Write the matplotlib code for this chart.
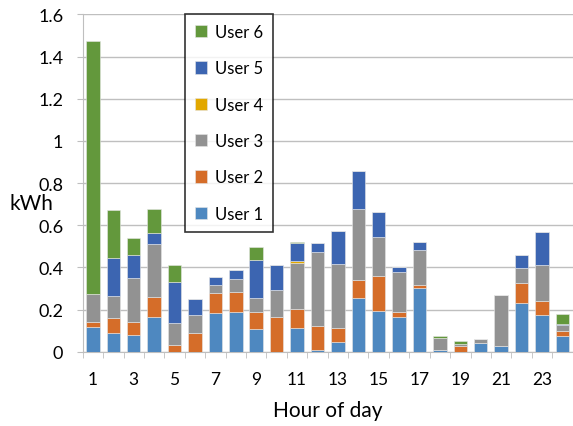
import matplotlib.pyplot as plt
from matplotlib.ticker import FuncFormatter

plt.rcParams['font.family'] = ['Lato', 'DejaVu Sans']

hours = list(range(1, 25))

user1 = [0.119, 0.087, 0.081, 0.166, 0.0, 0.0, 0.183, 0.187, 0.109, 0.0, 0.114, 0.009,
         0.045, 0.253, 0.191, 0.163, 0.304, 0.007, 0.0, 0.043, 0.026, 0.229, 0.173, 0.076]
user2 = [0.023, 0.073, 0.058, 0.095, 0.032, 0.087, 0.097, 0.095, 0.078, 0.166, 0.090, 0.114,
         0.066, 0.086, 0.166, 0.027, 0.012, 0.0, 0.028, 0.0, 0.0, 0.095, 0.066, 0.022]
user3 = [0.132, 0.104, 0.210, 0.251, 0.103, 0.087, 0.038, 0.061, 0.068, 0.127, 0.218, 0.351,
         0.305, 0.338, 0.187, 0.188, 0.165, 0.056, 0.007, 0.016, 0.243, 0.074, 0.171, 0.027]
user4 = [0.0, 0.0, 0.0, 0.0, 0.0, 0.0, 0.0, 0.0, 0.0, 0.0, 0.008, 0.0,
         0.0, 0.0, 0.0, 0.0, 0.0, 0.0, 0.0, 0.0, 0.0, 0.0, 0.0, 0.0]
user5 = [0.0, 0.180, 0.111, 0.052, 0.197, 0.077, 0.036, 0.044, 0.181, 0.117, 0.084, 0.043,
         0.156, 0.178, 0.117, 0.022, 0.039, 0.0, 0.0, 0.0, 0.0, 0.062, 0.158, 0.005]
user6 = [1.199, 0.228, 0.078, 0.111, 0.081, 0.0, 0.0, 0.0, 0.059, 0.0, 0.008, 0.0,
         0.0, 0.0, 0.0, 0.0, 0.0, 0.013, 0.014, 0.0, 0.0, 0.0, 0.0, 0.050]

series = [user1, user2, user3, user4, user5, user6]
labels = ["User 1", "User 2", "User 3", "User 4", "User 5", "User 6"]
colors = ["#4E88C0", "#D56D29", "#929292", "#E2A800", "#3C65B1", "#63983C"]

fig = plt.figure(figsize=(5.73, 4.27), dpi=100)
ax = fig.add_axes([0.1443, 0.174, 0.855, 0.79])

bottom = [0.0] * 24
for vals, lab, col in zip(series, labels, colors):
    ax.bar(hours, vals, width=0.66, bottom=bottom, color=col, label=lab,
           edgecolor="#e6e6e6", linewidth=0.4, zorder=3)
    bottom = [b + v for b, v in zip(bottom, vals)]

ax.set_xlim(0.5, 24.5)
ax.set_ylim(0, 1.6)
ax.set_yticks([0, 0.2, 0.4, 0.6, 0.8, 1.0, 1.2, 1.4, 1.6])
ax.yaxis.set_major_formatter(FuncFormatter(lambda v, p: "%g" % round(v, 1)))
ax.grid(axis="y", color="#bfbfbf", linewidth=1, zorder=0)

ax.set_xticks(hours)
ax.set_xticklabels([str(h) if h % 2 == 1 else "" for h in hours])
ax.set_xticks([h + 0.5 for h in range(0, 25)], minor=True)
ax.tick_params(axis="x", which="major", length=0, pad=14, labelsize=12.5)
ax.tick_params(axis="x", which="minor", length=4, color="#bfbfbf", direction="out")
ax.tick_params(axis="y", length=4, color="#bfbfbf", labelsize=13, pad=10)

for s in ["top", "right"]:
    ax.spines[s].set_visible(False)
for s in ["left", "bottom"]:
    ax.spines[s].set_color("#bfbfbf")

ax.set_xlabel("Hour of day", fontsize=15, labelpad=9)
fig.text(0.016, 0.522, "kWh", fontsize=15, va="center", ha="left")

handles, labs = ax.get_legend_handles_labels()
leg = fig.legend(handles[::-1], labs[::-1], loc="upper left",
                 bbox_to_anchor=(0.3223, 0.965), fontsize=12,
                 frameon=True, fancybox=False, edgecolor="black",
                 labelspacing=1.22, handlelength=0.75, handleheight=0.75,
                 handletextpad=0.45, borderpad=0.6, borderaxespad=0)
leg.get_frame().set_linewidth(1.2)

fig.savefig("out.png", dpi=100)
